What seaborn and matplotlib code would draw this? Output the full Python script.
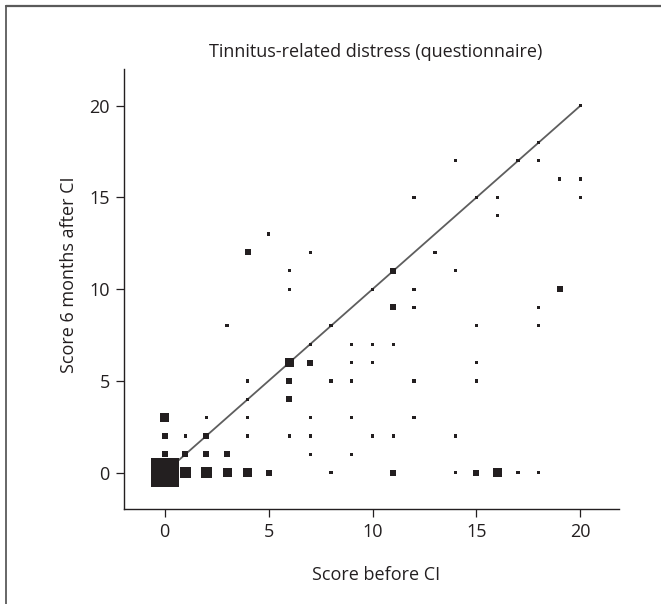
import matplotlib
matplotlib.use("Agg")
import matplotlib.pyplot as plt
import seaborn as sns
import pandas as pd
from matplotlib.lines import Line2D

# ---- data (score before CI, score 6 months after CI, number of patients) ----
before = [0, 1, 2, 3, 4, 5, 8, 11, 14, 15, 16, 17, 18,
          0, 1, 2, 3, 7, 9,
          0, 1, 2, 4, 6, 7, 10, 11, 14,
          0, 2, 4, 7, 9, 12,
          4, 6,
          4, 6, 8, 9, 12, 15,
          6, 7, 9, 10, 15,
          7, 9, 10, 11,
          3, 8, 15, 18,
          11, 12, 18,
          6, 10, 12, 19,
          6, 11, 14,
          4, 7, 13,
          5,
          16,
          12, 15, 16, 20,
          19, 20,
          14, 17, 18,
          18,
          20]
after = [0] * 13 + [1] * 6 + [2] * 9 + [3] * 6 + [4] * 2 + [5] * 6 + [6] * 5 + \
        [7] * 4 + [8] * 4 + [9] * 3 + [10] * 4 + [11] * 3 + [12] * 3 + [13] * 1 + \
        [14] * 1 + [15] * 4 + [16] * 2 + [17] * 3 + [18] * 1 + [20] * 1
count = [9, 4, 4, 3, 3, 2, 1, 2, 1, 2, 3, 1, 1,
         2, 2, 2, 2, 1, 1,
         2, 1, 2, 1, 1, 1, 1, 1, 1,
         3, 1, 1, 1, 1, 1,
         1, 2,
         1, 2, 1, 1, 1, 1,
         3, 2, 1, 1, 1,
         1, 1, 1, 1,
         1, 1, 1, 1,
         2, 1, 1,
         1, 1, 1, 2,
         1, 2, 1,
         2, 1, 1,
         1,
         1,
         1, 1, 1, 1,
         1, 1,
         1, 1, 1,
         1,
         1]
identity = [0, 20]
ticks = [0, 5, 10, 15, 20]

title = "Tinnitus-related distress (questionnaire)"
xlabel = "Score before CI"
ylabel = "Score 6 months after CI"

df = pd.DataFrame({"before": before, "after": after, "n": count})

# ---- styling ----
sns.set_theme(style="ticks")
plt.rcParams["font.family"] = ["Open Sans", "DejaVu Sans"]
ink = "#231f20"
fs = 13

W, H, DPI = 661, 604, 100
fig = plt.figure(figsize=(W / DPI, H / DPI), dpi=DPI, facecolor="white")
ax = fig.add_axes([123.5 / W, 1 - 509.3 / H, (619.3 - 123.5) / W, (509.3 - 69) / H])
ax.set_facecolor("white")

# marker side lengths in px -> area in pt^2
side_px = {1: 3.3, 2: 6.0, 3: 9.0, 4: 11.0, 9: 28.3}
size_map = {k: (v * 72 / DPI) ** 2 for k, v in side_px.items()}

ax.plot(identity, identity, color="#5e5e5e", lw=1.3, zorder=1, solid_capstyle="butt")
sns.scatterplot(data=df, x="before", y="after", size="n", sizes=size_map,
                marker="s", color=ink, edgecolor="none", linewidth=0,
                legend=False, ax=ax, zorder=2)

ax.set_xlim(-1.98, 21.87)
ax.set_ylim(-2, 22)
ax.set_xticks(ticks)
ax.set_yticks(ticks)
sns.despine(ax=ax)
for s in ("left", "bottom"):
    ax.spines[s].set_color(ink)
    ax.spines[s].set_linewidth(1.0)
ax.tick_params(axis="both", direction="out", length=5.5, width=0.9, color=ink,
               labelcolor=ink, labelsize=fs, pad=4.5)

ax.set_xlabel("")
ax.set_ylabel("")
fig.text(376 / W, 1 - 580 / H, xlabel, ha="center", va="baseline",
         fontsize=fs, color=ink)
fig.text(74 / W, 1 - 275 / H, ylabel, ha="center", va="baseline", rotation=90,
         fontsize=fs, color=ink, rotation_mode="anchor")
fig.text(376 / W, 1 - 57 / H, title, ha="center", va="baseline",
         fontsize=fs, color=ink)

# partial frame of the figure (left and top edges)
fig.add_artist(Line2D([6 / W, 6 / W], [0, 1 - 6 / H], color="#5a5a5a", lw=1.3,
                      transform=fig.transFigure))
fig.add_artist(Line2D([6 / W, 1], [1 - 6 / H, 1 - 6 / H], color="#5a5a5a", lw=1.6,
                      transform=fig.transFigure))

fig.savefig("out.png", dpi=DPI, facecolor="white")
